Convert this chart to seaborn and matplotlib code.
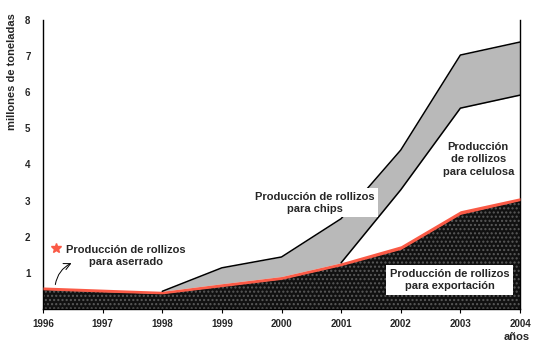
import numpy as np
import pandas as pd
import matplotlib
matplotlib.use("Agg")
import matplotlib.pyplot as plt
import seaborn as sns

years = [1996, 1997, 1998, 1999, 2000, 2001, 2002, 2003, 2004]
exportacion = [0.53, 0.47, 0.42, 0.62, 0.82, 1.20, 1.65, 2.62, 3.00]
aserrado_top = [0.61, 0.55, 0.49, 0.70, 0.90, 1.28, 1.75, 2.72, 3.08]
celulosa_top = [0.61, 0.55, 0.49, 0.70, 0.90, 1.28, 3.30, 5.56, 5.92]
chips_top = [0.61, 0.55, 0.49, 1.14, 1.44, 2.50, 4.40, 7.03, 7.39]
yticks = [1, 2, 3, 4, 5, 6, 7, 8]

df = pd.DataFrame({"year": years, "exp": exportacion, "ase": aserrado_top,
                   "cel": celulosa_top, "chi": chips_top})

sns.set_theme(style="white")
plt.rcParams['font.family'] = ['Liberation Sans', 'DejaVu Sans']

fig = plt.figure(figsize=(5.37, 3.46), dpi=100)
ax = fig.add_axes([43/537, 1-309/346, (520-43)/537, (309-20)/346])

# chips (gray band)
ax.fill_between(df["year"], df["cel"], df["chi"], color="#b9b9b9", lw=0, zorder=1)
# exportacion (black, speckled)
ax.fill_between(df["year"], 0, df["exp"], facecolor="#111111", edgecolor="#5a5a5a",
                hatch="....", lw=0, zorder=2)
# aserrado red band
ax.fill_between(df["year"], df["exp"], df["ase"], color="#fa5a46", lw=0, zorder=3)

sns.lineplot(data=df.iloc[2:], x="year", y="chi", color="black", lw=1.1, ax=ax, zorder=4)
sns.lineplot(data=df.iloc[5:], x="year", y="cel", color="black", lw=1.1, ax=ax, zorder=4)

ax.set_xlim(1996, 2004)
ax.set_ylim(0, 8)
ax.set_yticks(yticks)
ax.set_xticks(years)
ax.set_xticklabels([str(y) for y in years], fontsize=7, fontweight="bold")
ax.set_yticklabels([str(v) for v in yticks], fontsize=7, fontweight="bold")
ax.tick_params(axis="x", length=3, width=0.8, color="black", pad=4, direction="out", bottom=True)
ax.tick_params(axis="y", length=0, pad=9)
ax.set_xlabel("")
ax.set_ylabel("")

ax.spines["top"].set_visible(False)
for s in ["left", "right", "bottom"]:
    ax.spines[s].set_color("black")
    ax.spines[s].set_linewidth(1.0)

box = dict(facecolor="white", edgecolor="none", pad=2.5)
tk = dict(fontsize=8, fontweight="bold", ha="center", va="center",
          multialignment="center", zorder=6, linespacing=1.3)
ax.text(2000.56, 2.94, "Producción de rollizos\npara chips", bbox=box, **tk)
ax.text(2003.30, 4.14, "Producción\nde rollizos\npara celulosa", **tk)
ax.text(2002.82, 0.80, "Producción de rollizos\npara exportación", bbox=box, **tk)
ax.text(1997.39, 1.47, "Producción de rollizos\npara aserrado", **tk)
ax.plot([1996.22], [1.68], marker="*", color="#fa5a46", markersize=7, zorder=6)
ax.annotate("", xy=(1996.52, 1.30), xytext=(1996.2, 0.60),
            arrowprops=dict(arrowstyle="->", color="black", lw=0.7,
                            connectionstyle="arc3,rad=-0.3"), zorder=6)

fig.text(12/537, 1-72/346, "millones de toneladas", rotation=90, fontsize=8,
         fontweight="bold", ha="center", va="center")
fig.text(517/537, 1-337/346, "años", fontsize=8, fontweight="bold", ha="center", va="center")

fig.savefig("out.png", dpi=100, facecolor="white")
